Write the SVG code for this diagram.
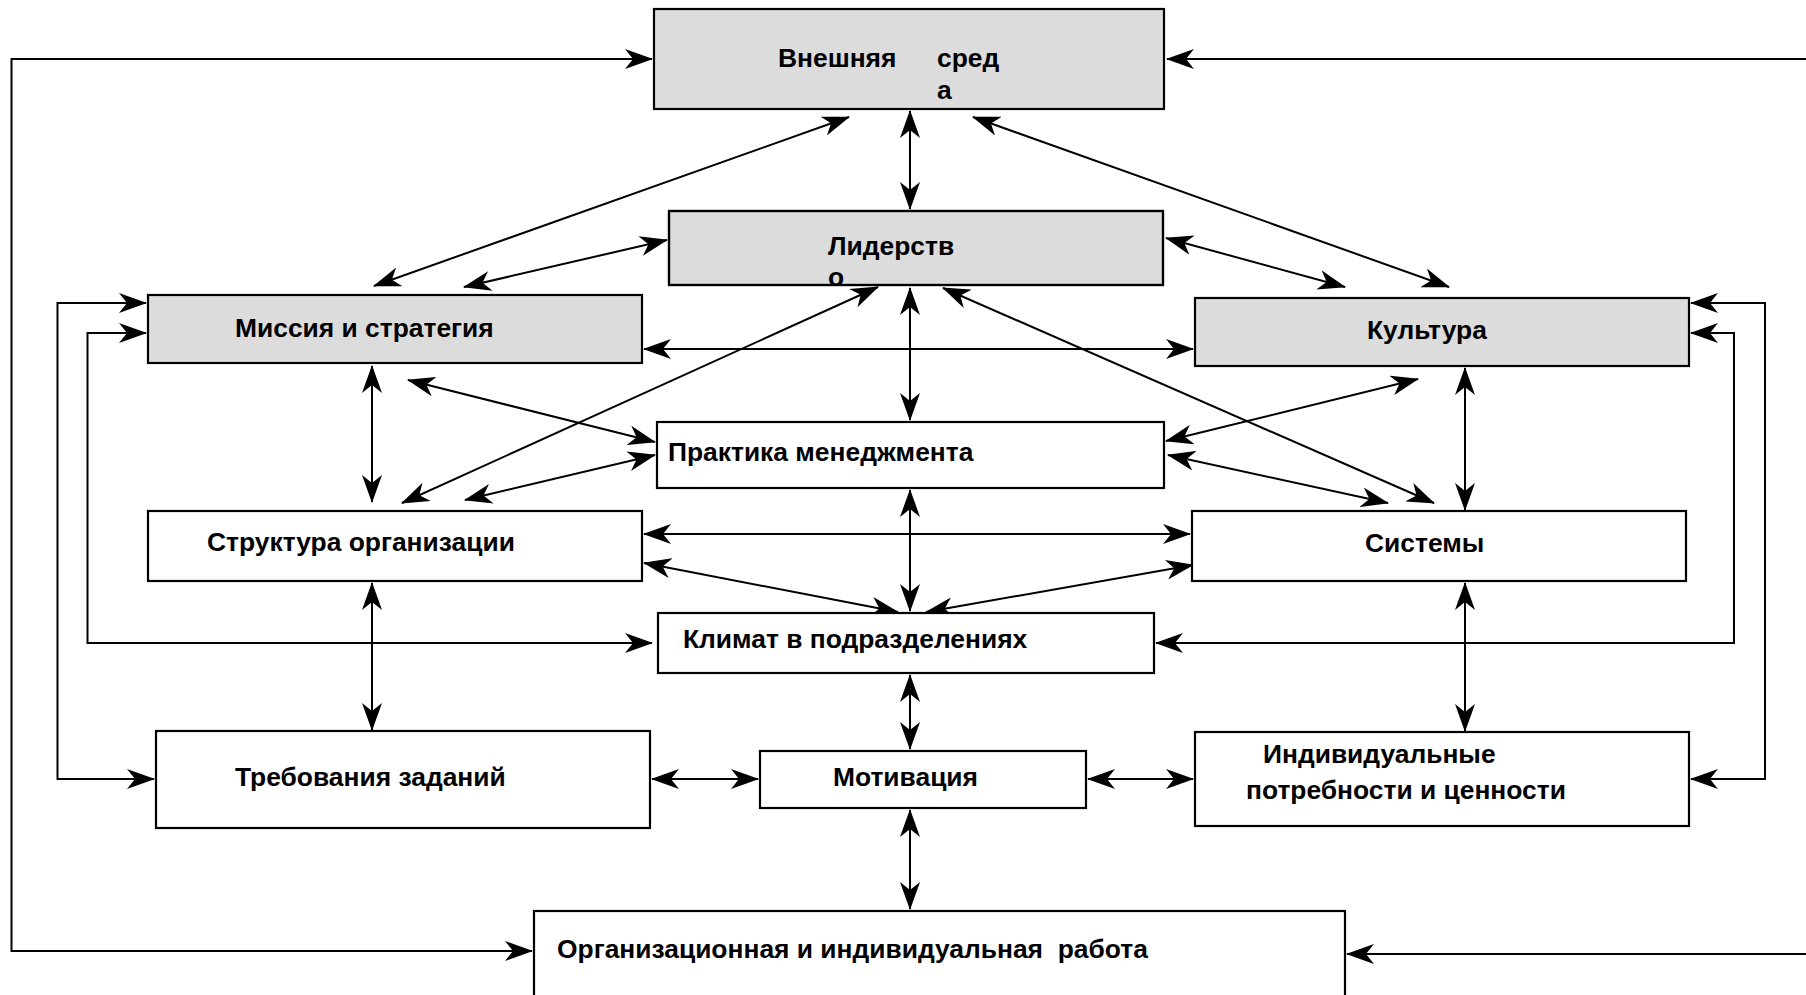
<svg xmlns="http://www.w3.org/2000/svg" width="1806" height="995" viewBox="0 0 1806 995">
  <style>
    .box { fill: #ffffff; stroke: #000000; stroke-width: 2.2; }
    .grey { fill: #dcdcdc; }
    .lbl { font-family: "Liberation Sans", Arial, sans-serif; font-weight: bold; font-size: 26.4px; fill: #000000; }
    .ln { fill: none; stroke: #000000; stroke-width: 2; marker-start: url(#arr); marker-end: url(#arr); }
    .one { fill: none; stroke: #000000; stroke-width: 2; marker-end: url(#arr); }
  </style>
  <defs>
    <marker id="arr" viewBox="0 0 28 20" refX="27" refY="10" markerWidth="28" markerHeight="20" markerUnits="userSpaceOnUse" orient="auto-start-reverse">
      <path d="M0,0 L28,10 L0,20 L8,10 Z" fill="#000000"/>
    </marker>
    <clipPath id="clipLead">
      <rect x="669" y="211" width="494" height="75"/>
    </clipPath>
  </defs>

  <rect width="1806" height="995" fill="#ffffff"/>

  <!-- connectors -->
  <g id="connectors">
    <!-- outer frame loops -->
    <path class="ln" d="M652,59 H11.5 V951 H532"/>
    <path class="one" d="M1806,59 H1167"/>
    <path class="one" d="M1806,954 H1347"/>
    <path class="ln" d="M146,303 H57.5 V779 H154"/>
    <path class="ln" d="M146,333 H87.5 V643 H652"/>
    <path class="ln" d="M1691,303 H1765 V779 H1691"/>
    <path class="ln" d="M1691,333 H1734 V643 H1156"/>

    <!-- from the external environment -->
    <path class="ln" d="M849,117 L374,286"/>
    <path class="ln" d="M910,111 L910,209"/>
    <path class="ln" d="M973,117 L1449,287"/>

    <!-- from leadership -->
    <path class="ln" d="M667,240 L464,287"/>
    <path class="ln" d="M1166,238 L1345,287"/>
    <path class="ln" d="M878,287 L402,503"/>
    <path class="ln" d="M910,288 L910,420"/>
    <path class="ln" d="M943,288 L1434,503"/>

    <!-- mission / culture level -->
    <path class="ln" d="M644,349 L1193,349"/>
    <path class="ln" d="M408,380 L655,442"/>
    <path class="ln" d="M372,366 L372,502"/>
    <path class="ln" d="M1418,379 L1166,441"/>
    <path class="ln" d="M1465,368 L1465,510"/>

    <!-- management practice level -->
    <path class="ln" d="M465,500 L655,455"/>
    <path class="ln" d="M1168,455 L1388,503"/>
    <path class="ln" d="M910,490 L910,611"/>

    <!-- structure / systems level -->
    <path class="ln" d="M644,534 L1190,534"/>
    <path class="ln" d="M644,563 L898,612"/>
    <path class="ln" d="M1193,565 L926,612"/>
    <path class="ln" d="M372,583 L372,730"/>
    <path class="ln" d="M1465,583 L1465,731"/>

    <!-- climate / motivation level -->
    <path class="ln" d="M910,675 L910,749"/>
    <path class="ln" d="M652,779 L758,779"/>
    <path class="ln" d="M1088,779 L1193,779"/>
    <path class="ln" d="M910,810 L910,909"/>
  </g>

  <!-- nodes -->
  <g id="external">
    <rect class="box grey" x="654" y="9" width="510" height="100"/>
    <text class="lbl" x="778" y="67">Внешняя</text>
    <text class="lbl" x="937" y="67">сред</text>
    <text class="lbl" x="937" y="99">а</text>
  </g>

  <g id="leadership">
    <rect class="box grey" x="669" y="211" width="494" height="74"/>
    <g clip-path="url(#clipLead)">
      <text class="lbl" x="828" y="255">Лидерств</text>
      <text class="lbl" x="828" y="286">о</text>
    </g>
    <rect x="669" y="211" width="494" height="74" fill="none" stroke="#000000" stroke-width="2.2"/>
  </g>

  <g id="mission">
    <rect class="box grey" x="148" y="295" width="494" height="68"/>
    <text class="lbl" x="235" y="337">Миссия и стратегия</text>
  </g>

  <g id="culture">
    <rect class="box grey" x="1195" y="298" width="494" height="68"/>
    <text class="lbl" x="1367" y="339">Культура</text>
  </g>

  <g id="practice">
    <rect class="box" x="657" y="422" width="507" height="66"/>
    <text class="lbl" x="668" y="461">Практика менеджмента</text>
  </g>

  <g id="structure">
    <rect class="box" x="148" y="511" width="494" height="70"/>
    <text class="lbl" x="207" y="551">Структура организации</text>
  </g>

  <g id="systems">
    <rect class="box" x="1192" y="511" width="494" height="70"/>
    <text class="lbl" x="1365" y="552">Системы</text>
  </g>

  <g id="climate">
    <rect class="box" x="658" y="613" width="496" height="60"/>
    <text class="lbl" x="683" y="648">Климат в подразделениях</text>
  </g>

  <g id="task-requirements">
    <rect class="box" x="156" y="731" width="494" height="97"/>
    <text class="lbl" x="235" y="786">Требования заданий</text>
  </g>

  <g id="motivation">
    <rect class="box" x="760" y="751" width="326" height="57"/>
    <text class="lbl" x="833" y="786">Мотивация</text>
  </g>

  <g id="individual-needs">
    <rect class="box" x="1195" y="732" width="494" height="94"/>
    <text class="lbl" x="1263" y="763">Индивидуальные</text>
    <text class="lbl" x="1246" y="799">потребности и ценности</text>
  </g>

  <g id="performance">
    <rect class="box" x="534" y="911" width="811" height="100"/>
    <text class="lbl" x="557" y="958" xml:space="preserve">Организационная и индивидуальная  работа</text>
  </g>
</svg>
